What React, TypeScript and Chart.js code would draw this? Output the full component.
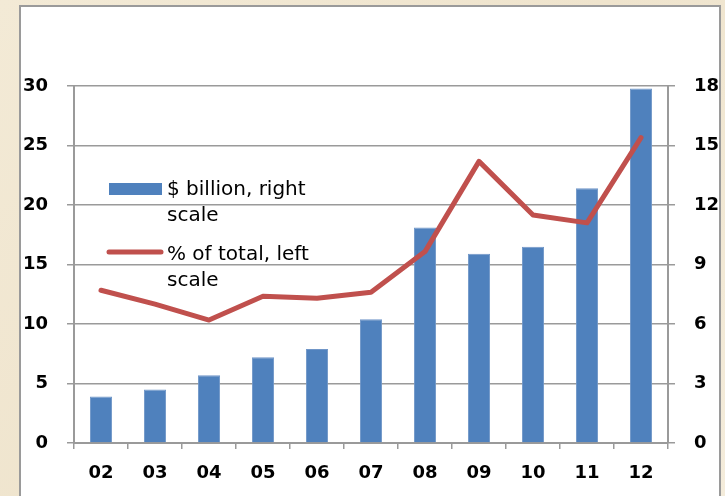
import React, { useEffect, useRef } from 'react';
import { Chart, registerables } from 'chart.js';

Chart.register(...registerables);

// ---- Data ----
const categories = ['02', '03', '04', '05', '06', '07', '08', '09', '10', '11', '12'];
const billionValues = [3.9, 4.5, 5.7, 7.2, 7.9, 10.4, 18.1, 15.9, 16.5, 21.4, 29.8];
const percentValues = [7.7, 7.0, 6.2, 7.4, 7.3, 7.6, 9.65, 14.2, 11.5, 11.1, 15.4];
const leftTickValues = [0, 5, 10, 15, 20, 25, 30];
const rightTickValues = [0, 3, 6, 9, 12, 15, 18];
const barLegendLines = ['$ billion, right', 'scale'];
const lineLegendLines = ['% of total, left', 'scale'];

const BLUE = '#4F81BD';
const RED = '#C0504D';
const GRID = '#9a9a9a';
const TICK_FONT = { family: 'DejaVu Sans', size: 18, weight: 'bold' as const };

const legendPlugin = {
  id: 'insideLegend',
  afterDraw(chart: any) {
    const ctx = chart.ctx;
    const L = chart.chartArea.left;
    ctx.save();
    ctx.font = '20px "DejaVu Sans"';
    ctx.fillStyle = '#000';
    ctx.textBaseline = 'alphabetic';
    ctx.textAlign = 'left';
    // bar item
    ctx.fillStyle = BLUE;
    ctx.fillRect(L + 35, 183, 53, 12);
    ctx.fillStyle = '#000';
    ctx.fillText(barLegendLines[0], L + 93, 195);
    ctx.fillText(barLegendLines[1], L + 93, 221);
    // line item
    ctx.strokeStyle = RED;
    ctx.lineWidth = 5;
    ctx.lineCap = 'round';
    ctx.beginPath();
    ctx.moveTo(L + 35, 252);
    ctx.lineTo(L + 87, 252);
    ctx.stroke();
    ctx.fillText(lineLegendLines[0], L + 93, 260);
    ctx.fillText(lineLegendLines[1], L + 93, 286);
    ctx.restore();
  },
};

export default function App() {
  const ref = useRef<HTMLCanvasElement>(null);

  useEffect(() => {
    const chart = new Chart(ref.current!, {
      type: 'bar',
      data: {
        labels: categories,
        datasets: [
          {
            type: 'line',
            label: lineLegendLines.join(' '),
            data: percentValues,
            yAxisID: 'yRight',
            borderColor: RED,
            backgroundColor: RED,
            borderWidth: 5,
            pointRadius: 0,
            tension: 0,
            borderCapStyle: 'round',
            borderJoinStyle: 'round',
            order: 0,
          } as any,
          {
            type: 'bar',
            label: barLegendLines.join(' '),
            data: billionValues,
            yAxisID: 'yLeft',
            backgroundColor: BLUE,
            borderColor: '#7096c8',
            borderWidth: 1,
            categoryPercentage: 1,
            barPercentage: 0.41,
            order: 1,
          } as any,
        ],
      },
      options: {
        responsive: false,
        maintainAspectRatio: false,
        devicePixelRatio: 1,
        animation: false,
        layout: { padding: { top: 86, left: 0, right: 0, bottom: 0 } },
        plugins: { legend: { display: false }, tooltip: { enabled: false } },
        scales: {
          x: {
            offset: true,
            grid: {
              offset: true,
              drawOnChartArea: false,
              drawTicks: true,
              tickLength: 6,
              color: GRID,
              lineWidth: 1.5,
            },
            border: { display: true, color: GRID, width: 2 },
            ticks: { color: '#000', font: TICK_FONT, padding: 14, maxRotation: 0 },
            afterFit(scale: any) {
              scale.height = 53;
            },
          },
          yLeft: {
            position: 'left',
            min: leftTickValues[0],
            max: leftTickValues[leftTickValues.length - 1],
            ticks: {
              stepSize: leftTickValues[1] - leftTickValues[0],
              color: '#000',
              font: TICK_FONT,
              padding: 19,
            },
            grid: { color: GRID, lineWidth: 1.5, tickLength: 7, drawTicks: true },
            border: { display: true, color: GRID, width: 2 },
            afterFit(scale: any) {
              scale.width = 74;
            },
          },
          yRight: {
            position: 'right',
            min: rightTickValues[0],
            max: rightTickValues[rightTickValues.length - 1],
            ticks: {
              stepSize: rightTickValues[1] - rightTickValues[0],
              color: '#000',
              font: TICK_FONT,
              padding: 19,
            },
            grid: { drawOnChartArea: false, color: GRID, lineWidth: 1.5, tickLength: 7, drawTicks: true },
            border: { display: true, color: GRID, width: 2 },
            afterFit(scale: any) {
              scale.width = 57;
            },
          },
        },
      } as any,
      plugins: [legendPlugin],
    });
    return () => chart.destroy();
  }, []);

  return (
    <div
      style={{
        position: 'fixed',
        left: 0,
        top: 0,
        width: 725,
        height: 496,
        overflow: 'hidden',
        background: 'linear-gradient(135deg, #f3ead6 0%, #efe4cd 50%, #f4ecdb 100%)',
      }}
    >
      <div
        style={{
          position: 'absolute',
          left: 19,
          top: 5,
          width: 698,
          height: 540,
          background: '#ffffff',
          border: '2px solid #9a9a9a',
        }}
      />
      <canvas
        ref={ref}
        width={725}
        height={496}
        style={{ position: 'absolute', left: 0, top: 0, width: 725, height: 496 }}
      />
    </div>
  );
}
